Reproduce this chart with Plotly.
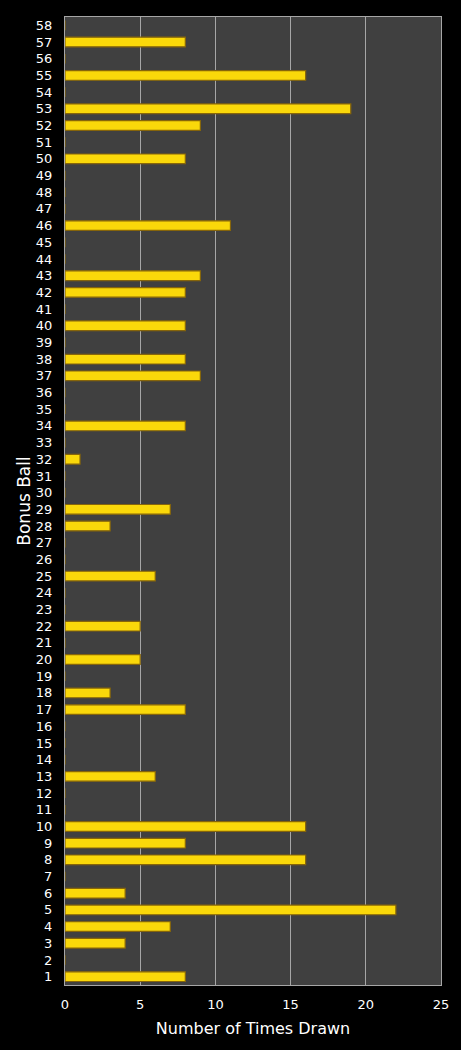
import plotly.graph_objects as go

balls = list(range(1, 59))
drawn_map = {1: 8, 3: 4, 4: 7, 5: 22, 6: 4, 8: 16, 9: 8, 10: 16, 13: 6, 17: 8, 18: 3,
             20: 5, 22: 5, 25: 6, 28: 3, 29: 7, 32: 1, 34: 8, 37: 9, 38: 8, 40: 8,
             42: 8, 43: 9, 46: 11, 50: 8, 52: 9, 53: 19, 55: 16, 57: 8}
times_drawn = [drawn_map.get(b, 0) for b in balls]
x_ticks = [0, 5, 10, 15, 20, 25]

font = "DejaVu Sans, Verdana, sans-serif"

fig = go.Figure()
fig.add_trace(go.Bar(
    y=balls, x=times_drawn, orientation="h",
    marker=dict(color="#fad80a", line=dict(color="#86650a", width=1.2)),
    hoverinfo="x+y",
))

fig.update_layout(
    width=461, height=1050,
    margin=dict(l=65, r=19.5, t=17, b=64.5),
    paper_bgcolor="#000000", plot_bgcolor="#404040",
    bargap=0.42, showlegend=False,
    font=dict(family=font, color="#ffffff", size=13),
)
fig.update_xaxes(
    range=[0, 25], tickvals=x_ticks, showgrid=True, gridcolor="#a6a6a6", gridwidth=1,
    zeroline=False, showline=True, linecolor="#a6a6a6", linewidth=1, mirror=True,
    ticks="", tickfont=dict(size=13, color="#ffffff"), ticklabelstandoff=7,
    title=dict(text="Number of Times Drawn", font=dict(size=16, color="#ffffff"), standoff=12),
)
fig.update_yaxes(
    range=[0.5, 58.5], tickvals=balls, showgrid=False, zeroline=False,
    showline=True, linecolor="#a6a6a6", linewidth=1, mirror=True, ticks="",
    tickfont=dict(size=13, color="#ffffff"), ticklabelstandoff=9,
    title=dict(text="Bonus Ball", font=dict(size=17, color="#ffffff"), standoff=0),
)

fig.write_html("out.html")
